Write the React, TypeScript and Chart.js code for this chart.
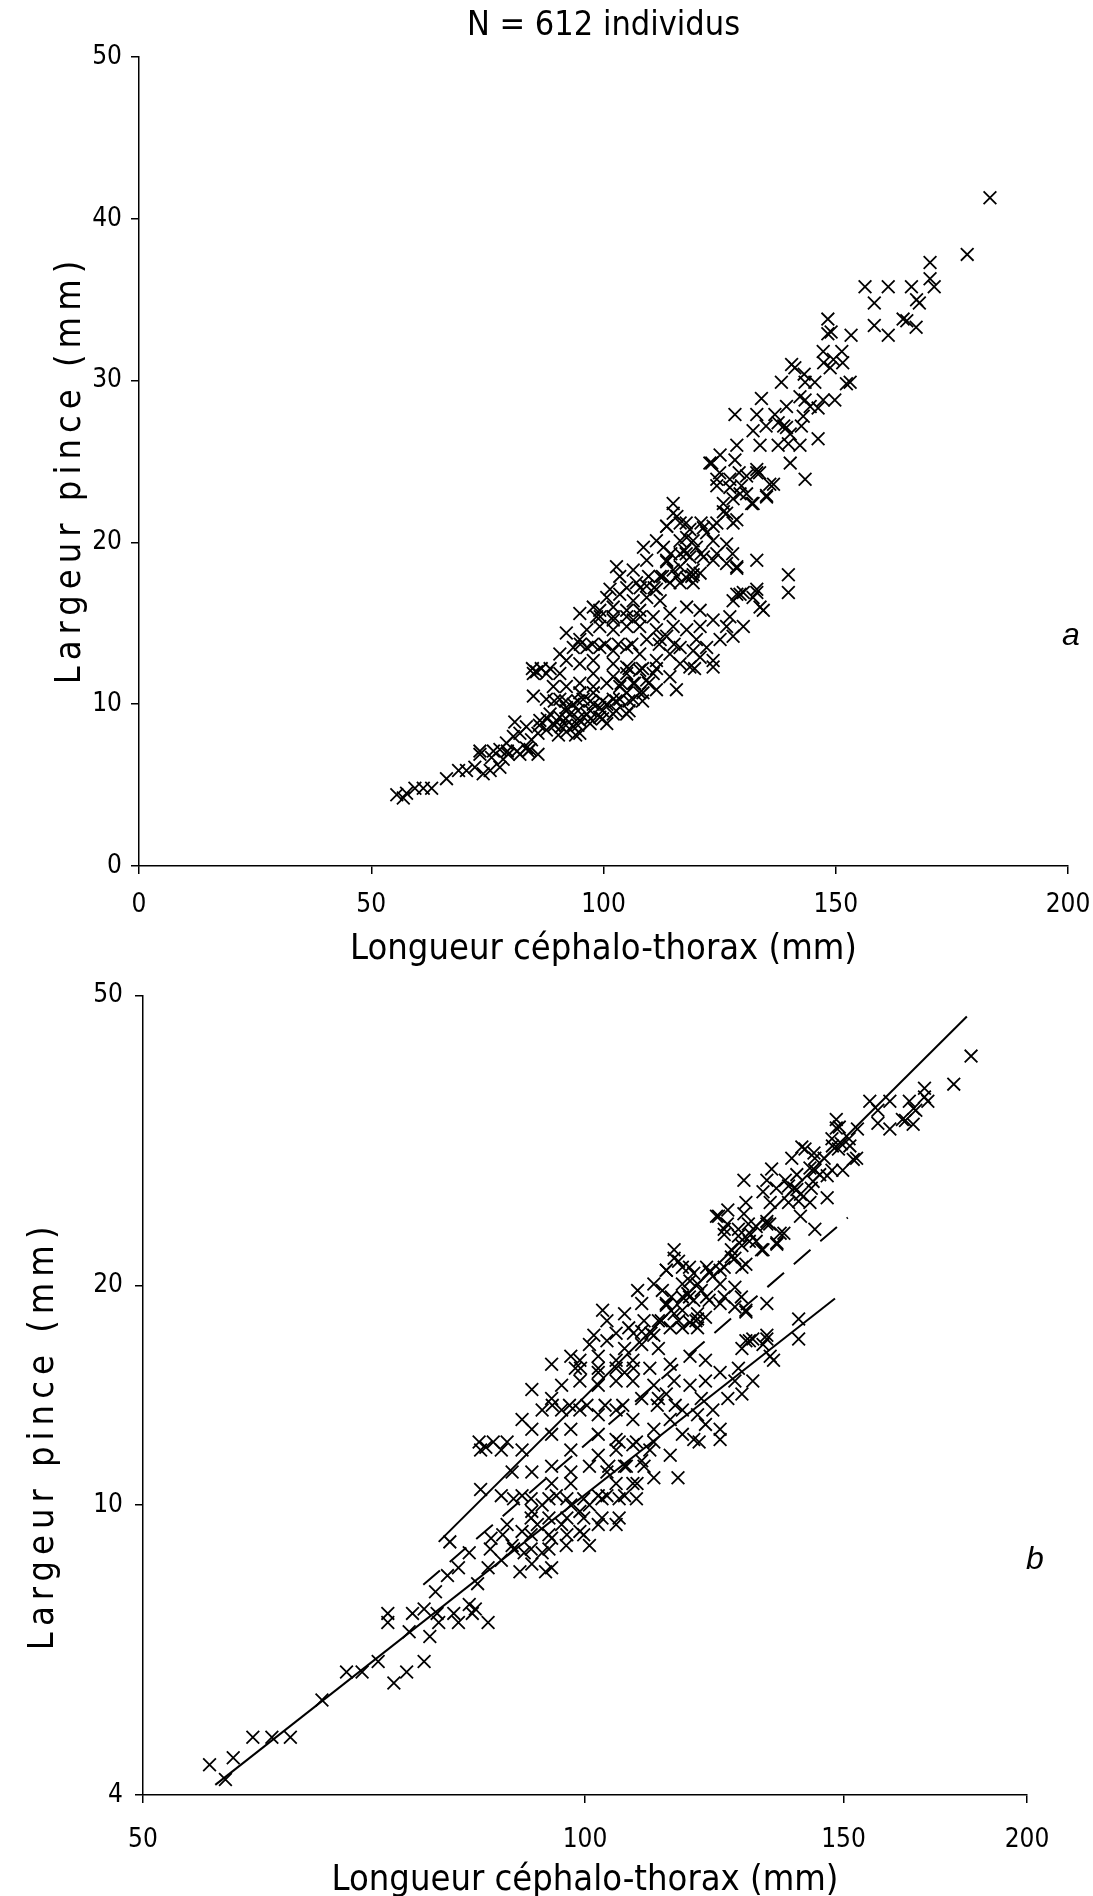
import React, { useEffect, useRef } from "react";
import { Chart, registerables } from "chart.js";

Chart.register(...registerables);

// ---- Data ----
// Longueur céphalo-thorax (mm)
const CT_LENGTH: number[] = [
  183.2, 178.3, 170.3, 170.3, 171.2, 156.3, 161.3, 166.3, 158.3, 168.0,
  167.4, 148.3, 158.3, 161.3, 164.5, 165.3, 167.3, 148.3, 153.3, 147.3,
  151.3, 149.5, 148.8, 140.5, 141.2, 143.2, 138.3, 143.4, 145.5, 153.1,
  152.3, 134.0, 143.4, 142.3, 149.8, 147.3, 139.4, 144.5, 146.2, 128.3,
  133.0, 136.9, 143.0, 137.6, 139.4, 132.2, 140.2, 128.7, 133.7, 137.6,
  142.3, 139.8, 146.2, 123.3, 125.1, 128.3, 140.2, 124.4, 127.2, 129.7,
  133.0, 136.6, 143.4, 130.8, 127.9, 131.9, 135.1, 115.0, 115.8, 125.8,
  128.7, 113.6, 118.6, 121.5, 116.5, 119.3, 123.6, 126.5, 112.9, 117.5,
  121.5, 128.7, 133.0, 139.8, 139.8, 113.6, 116.5, 119.3, 120.8, 114.3,
  117.9, 130.1, 133.0, 128.7,
  55.5, 57.6, 56.9, 59.4, 61.2, 63.0, 66.2, 68.8, 70.5, 72.3,
  73.4, 75.6, 75.9, 74.1, 79.5, 79.1, 80.6, 80.9, 82.0, 83.4,
  85.9, 84.5, 85.9, 87.7, 89.2, 90.9, 92.0, 93.5, 94.9, 90.6,
  92.8, 88.5, 97.1, 96.4, 99.2, 100.7, 102.1, 105.0, 84.9, 87.7,
  90.6, 93.5, 95.6, 97.8, 100.7, 103.5, 106.4, 108.5, 111.4, 115.7,
  84.9, 87.7, 85.6, 90.6, 89.2, 92.0, 94.9, 97.8, 100.7, 103.5,
  106.4, 109.3, 110.7, 114.3, 92.0, 94.9, 97.8, 93.5, 96.4, 99.2,
  102.1, 105.0, 107.8, 102.1, 105.0, 107.8, 111.4, 114.3, 116.5, 119.3,
  120.8, 123.6, 122.2, 96.4, 99.2, 102.1, 105.0, 107.8, 111.4, 115.0,
  117.9, 120.8, 123.6, 126.5, 127.9, 130.1, 125.1, 123.6, 99.2, 102.1,
  105.0, 100.7, 103.5, 106.4, 109.3, 112.2, 114.3, 117.9, 120.8, 127.9,
  129.4, 133.0, 133.7, 132.2, 127.2, 102.8, 106.4, 109.3, 108.6, 111.4,
  113.6, 115.0, 116.5, 117.9, 120.0, 118.6, 115.0, 112.2, 116.5, 119.3,
  123.6, 126.5, 128.7, 122.2, 123.6, 126.5, 127.9, 125.8, 124.4, 127.2,
  130.8, 133.0, 135.8, 135.1, 132.2, 122.9, 129.4, 134.4, 101.4, 97.8,
  98.5, 102.1, 106.4, 110.7, 107.8, 103.5, 107.1, 109.3, 111.4, 113.6,
  116.5, 119.3, 109.3, 112.2, 113.6, 116.5, 118.6, 120.0, 94.9, 92.0,
  94.9, 90.6, 97.8, 102.1, 105.0, 107.8, 105.0, 97.8, 94.9, 92.0,
  94.9, 99.2, 102.1, 86.3, 83.4, 82.0, 84.2, 78.4, 77.7, 77.7,
  89.4, 91.9, 94.5, 97.2, 99.8, 102.7, 105.5, 108.4,
  91.9, 94.5, 97.2, 99.8, 102.7, 105.5,
  87.9, 91.9, 94.5, 97.2, 99.8,
  86.2, 89.4, 91.9, 94.5,
  90.3, 94.0,
  84.7, 86.6, 88.5,
  73.4, 76.3, 79.3, 81.4, 83.8,
  114.5, 117.8, 121.0, 124.4, 127.8,
  117.8, 121.0, 124.4,
  109.7, 112.7, 115.8, 119.0,
  99.3, 102.1, 105.0, 107.9,
  95.0, 97.6, 100.3, 103.2, 106.1, 112.0, 115.2,
  105.5, 108.4, 111.4, 119.6,
  103.8, 106.7, 109.7,
  105.0, 107.9, 110.9,
  125.0, 129.2, 133.6,
  135.0, 138.8, 142.6,
  147.4, 151.5, 149.0,
];

// Largeur pince (mm)
const CLAW_WIDTH: number[] = [
  41.3, 37.8, 37.3, 36.3, 35.8, 35.8, 35.8, 35.8, 34.8, 34.8,
  35.0, 33.8, 33.4, 32.8, 33.8, 33.7, 33.3, 32.9, 32.8, 31.8,
  31.8, 31.3, 30.8, 31.0, 30.8, 30.4, 29.9, 29.9, 29.9, 29.9,
  29.8, 28.9, 28.8, 29.0, 28.8, 28.8, 28.4, 28.4, 28.3, 27.9,
  27.9, 27.9, 27.8, 27.4, 27.1, 26.9, 26.7, 26.0, 26.0, 26.0,
  26.0, 26.1, 26.4, 24.9, 25.4, 25.1, 24.9, 23.5, 23.9, 23.5,
  24.3, 23.6, 23.9, 23.0, 22.7, 22.4, 22.9, 22.4, 21.6, 21.9,
  21.4, 21.0, 20.8, 20.9, 20.1, 20.1, 20.1, 19.9, 19.7, 19.5,
  19.1, 18.4, 18.9, 18.0, 16.9, 18.8, 18.5, 18.0, 18.1, 17.5,
  17.8, 16.9, 16.9, 16.8,
  4.4, 4.5, 4.2, 4.8, 4.8, 4.8, 5.4, 5.9, 5.9, 6.1,
  6.9, 5.9, 6.7, 5.7, 6.9, 7.6, 8.0, 8.9, 6.9, 7.3,
  6.9, 7.8, 8.2, 8.4, 8.8, 8.6, 8.3, 8.6, 8.2, 9.2,
  9.4, 9.4, 8.8, 9.4, 9.2, 8.8, 9.4, 9.4, 10.5, 10.3,
  10.3, 10.0, 10.3, 10.0, 10.0, 10.3, 10.3, 10.7, 10.9, 10.9,
  11.9, 11.9, 12.0, 11.9, 11.1, 11.1, 11.3, 11.1, 11.3, 11.1,
  11.3, 11.5, 11.9, 11.7, 12.7, 12.5, 12.7, 13.5, 13.5, 13.5,
  13.3, 13.5, 13.1, 12.5, 12.3, 12.1, 12.7, 13.1, 13.5, 13.3,
  12.9, 12.7, 13.5, 14.6, 14.8, 14.6, 14.8, 14.8, 14.6, 14.8,
  14.6, 14.8, 15.2, 14.8, 14.2, 14.8, 14.0, 12.3, 15.8, 16.0,
  15.8, 16.6, 16.8, 16.4, 16.6, 16.4, 15.6, 16.0, 15.8, 16.4,
  16.8, 17.1, 16.0, 16.6, 15.4, 18.5, 18.3, 18.9, 19.7, 20.1,
  21.0, 21.8, 21.2, 20.3, 19.7, 19.1, 18.3, 17.9, 17.5, 17.5,
  18.9, 18.7, 18.5, 20.6, 21.0, 21.8, 21.2, 22.4, 23.9, 23.4,
  24.1, 24.5, 23.6, 22.8, 22.4, 24.9, 23.0, 15.8, 17.1, 16.0,
  15.4, 15.2, 15.2, 15.4, 15.8, 17.9, 17.5, 17.3, 17.1, 18.9,
  19.3, 18.3, 14.0, 14.0, 14.2, 12.5, 12.3, 14.0, 15.6, 14.4,
  14.0, 13.1, 11.9, 11.7, 11.9, 10.7, 10.7, 10.7, 10.7, 9.8,
  9.0, 9.8, 10.3, 9.0, 8.6, 8.2, 7.2, 6.6, 7.2, 6.1,
  10.2, 10.2, 10.2, 10.2, 10.2, 10.2, 10.2, 10.2,
  9.6, 9.6, 9.6, 9.6, 9.6, 9.6,
  9.1, 9.1, 9.1, 9.1, 9.1,
  8.7, 8.7, 8.7, 8.7,
  8.1, 8.1,
  12.2, 12.2, 12.2,
  7.1, 7.1, 7.1, 7.1, 7.1,
  19.3, 19.3, 19.3, 19.3, 19.3,
  21.2, 21.2, 21.2,
  17.9, 17.9, 17.9, 17.9,
  15.4, 15.4, 15.4, 15.4,
  13.7, 13.7, 13.7, 13.7, 13.7, 13.7, 13.7,
  12.2, 12.2, 12.2, 12.2,
  11.3, 11.3, 11.3,
  17.2, 17.2, 17.2,
  24.3, 24.3, 24.3,
  27.2, 27.2, 27.2,
  31.1, 31.1, 33.0,
];

// Regression lines of panel b (end points, log-log)
const UPPER_FIT_X = [79.5, 182.0];
const UPPER_FIT_Y = [8.9, 46.8];
const DASHED_FIT_X = [77.6, 151.0];
const DASHED_FIT_Y = [7.77, 24.8];
const LOWER_FIT_X = [56.0, 148.0];
const LOWER_FIT_Y = [4.13, 19.2];

// Tick values
const X_TICKS_A = [0, 50, 100, 150, 200];
const Y_TICKS_A = [0, 10, 20, 30, 40, 50];
const X_TICKS_B = [50, 100, 150, 200];
const Y_TICKS_B = [4, 10, 20, 50];

const TITLE_TEXT = "N = 612 individus";
const X_TITLE = "Longueur céphalo-thorax (mm)";
const Y_TITLE = "Largeur pince (mm)";

const FONT = "'DejaVu Sans Condensed', 'Liberation Sans Narrow', 'DejaVu Sans', sans-serif";
const W = 1093;
const H_A = 968;
const H_B = 1896 - H_A;

const points = CT_LENGTH.map((x, i) => ({ x, y: CLAW_WIDTH[i] }));
const toXY = (xs: number[], ys: number[]) => xs.map((x, i) => ({ x, y: ys[i] }));

const grid = {
  drawOnChartArea: false,
  drawTicks: true,
  tickLength: 8,
  color: "#000",
  lineWidth: 1.5,
};
const border = { display: true, color: "#000", width: 1.5 };
const tickFont = { family: FONT, size: 26 };
const titleFont = { family: FONT, size: 36, lineHeight: 1 };

const scatterDataset = {
  type: "scatter" as const,
  data: points,
  pointStyle: "crossRot",
  pointRadius: 9,
  pointBorderWidth: 1.8,
  borderColor: "#000",
  backgroundColor: "#000",
  showLine: false,
};

function textPlugin(items: { text: string; x: (c: any) => number; y: number; font: string }[]) {
  return {
    id: "labels",
    afterDraw(chart: any) {
      const ctx = chart.ctx;
      ctx.save();
      ctx.fillStyle = "#000";
      ctx.textAlign = "center";
      ctx.textBaseline = "middle";
      for (const it of items) {
        ctx.font = it.font;
        ctx.fillText(it.text, it.x(chart), it.y);
      }
      ctx.restore();
    },
  };
}

function setTicks(values: number[]) {
  return (scale: any) => {
    scale.ticks = values.map((v) => ({ value: v }));
  };
}

// x-axis fit: fixed height, limited side overhang so the plot keeps its width
function xFit(height: number, overhang: number) {
  return (s: any) => {
    s.height = height;
    s.paddingLeft = Math.min(s.paddingLeft, overhang);
    s.paddingRight = Math.min(s.paddingRight, overhang);
  };
}

// y-axis fit: fixed width, and a letter-spaced title shifted along the axis
function yFit(width: number, shiftY: number, spacing: string) {
  return (s: any) => {
    s.width = width;
    if (!s.__spaced) {
      const orig = s.drawTitle.bind(s);
      s.drawTitle = () => {
        const ctx = s.ctx;
        ctx.save();
        ctx.translate(0, shiftY);
        (ctx as any).letterSpacing = spacing;
        orig();
        ctx.restore();
      };
      s.__spaced = true;
    }
  };
}

function PanelA() {
  const ref = useRef<HTMLCanvasElement | null>(null);
  useEffect(() => {
    if (!ref.current) return;
    const chart = new Chart(ref.current, {
      type: "scatter",
      data: { datasets: [scatterDataset as any] },
      options: {
        animation: false,
        responsive: false,
        maintainAspectRatio: false,
        layout: { padding: { top: 57, right: 25, left: 0, bottom: 0 } },
        plugins: {
          legend: { display: false },
          tooltip: { enabled: false },
          title: { display: false },
        },
        scales: {
          x: {
            type: "linear",
            min: 0,
            max: 200,
            afterBuildTicks: setTicks(X_TICKS_A),
            afterFit: xFit(H_A - 866, 20),
            grid,
            border,
            ticks: { font: tickFont, color: "#000", padding: 16, maxRotation: 0, autoSkip: false },
            title: {
              display: true,
              text: X_TITLE,
              font: titleFont,
              color: "#000",
              padding: { top: 0, bottom: 0 },
            },
          },
          y: {
            type: "linear",
            min: 0,
            max: 50,
            afterBuildTicks: setTicks(Y_TICKS_A),
            afterFit: yFit(139, 8, "6px"),
            grid,
            border,
            ticks: { font: tickFont, color: "#000", padding: 9, autoSkip: false },
            title: {
              display: true,
              text: Y_TITLE,
              font: titleFont,
              color: "#000",
              padding: { top: 53, bottom: 0 },
            },
          },
        },
      } as any,
      plugins: [
        textPlugin([
          {
            text: TITLE_TEXT,
            x: (c) => (c.chartArea.left + c.chartArea.right) / 2,
            y: 26,
            font: `34px ${FONT}`,
          },
          { text: "a", x: () => 1071, y: 636, font: "italic 32px 'Liberation Sans', Arial, sans-serif" },
        ]) as any,
      ],
    });
    return () => chart.destroy();
  }, []);
  return (
    <canvas
      ref={ref}
      width={W}
      height={H_A}
      style={{ position: "absolute", left: 0, top: 0, width: W, height: H_A }}
    />
  );
}

function PanelB() {
  const ref = useRef<HTMLCanvasElement | null>(null);
  useEffect(() => {
    if (!ref.current) return;
    const lineBase = {
      type: "line" as const,
      borderColor: "#000",
      borderWidth: 2,
      pointRadius: 0,
      fill: false,
      tension: 0,
    };
    const chart = new Chart(ref.current, {
      type: "scatter",
      data: {
        datasets: [
          { ...lineBase, data: toXY(UPPER_FIT_X, UPPER_FIT_Y) },
          { ...lineBase, data: toXY(DASHED_FIT_X, DASHED_FIT_Y), borderDash: [22, 13] },
          { ...lineBase, data: toXY(LOWER_FIT_X, LOWER_FIT_Y) },
          scatterDataset,
        ] as any,
      },
      options: {
        animation: false,
        responsive: false,
        maintainAspectRatio: false,
        layout: { padding: { top: 21, right: 66, left: 0, bottom: 0 } },
        plugins: {
          legend: { display: false },
          tooltip: { enabled: false },
          title: { display: false },
        },
        scales: {
          x: {
            type: "logarithmic",
            min: 50,
            max: 200,
            afterBuildTicks: setTicks(X_TICKS_B),
            afterFit: xFit(H_B - 827, 40),
            grid,
            border,
            ticks: {
              font: tickFont,
              color: "#000",
              padding: 22,
              maxRotation: 0,
              autoSkip: false,
              callback: (v: any) => String(v),
            },
            title: {
              display: true,
              text: X_TITLE,
              font: titleFont,
              color: "#000",
              padding: { top: 0, bottom: -3 },
            },
          },
          y: {
            type: "logarithmic",
            min: 4,
            max: 50,
            afterBuildTicks: setTicks(Y_TICKS_B),
            afterFit: yFit(143, 40, "6px"),
            grid,
            border,
            ticks: {
              font: tickFont,
              color: "#000",
              padding: 12,
              autoSkip: false,
              callback: (v: any) => String(v),
            },
            title: {
              display: true,
              text: Y_TITLE,
              font: titleFont,
              color: "#000",
              padding: { top: 26, bottom: 0 },
            },
          },
        },
      } as any,
      plugins: [
        textPlugin([
          { text: "b", x: () => 1035, y: 1560 - H_A, font: "italic 32px 'Liberation Sans', Arial, sans-serif" },
        ]) as any,
      ],
    });
    return () => chart.destroy();
  }, []);
  return (
    <canvas
      ref={ref}
      width={W}
      height={H_B}
      style={{ position: "absolute", left: 0, top: H_A, width: W, height: H_B }}
    />
  );
}

export default function App() {
  return (
    <div style={{ position: "absolute", left: 0, top: 0, width: W, height: 1896, background: "#fff" }}>
      <PanelA />
      <PanelB />
    </div>
  );
}
